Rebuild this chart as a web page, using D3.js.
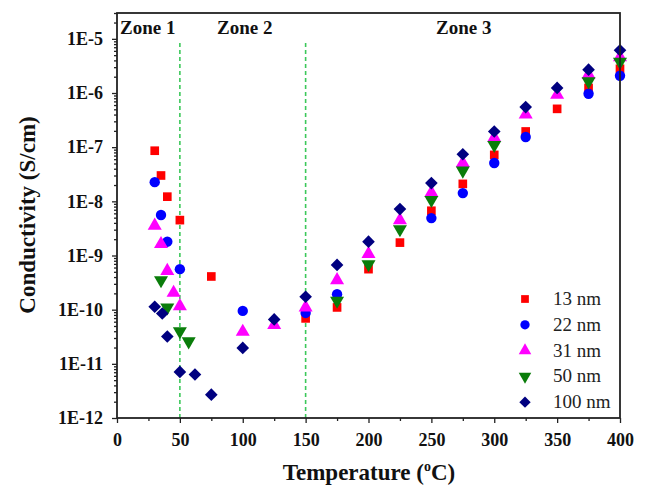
<!DOCTYPE html>
<html>
<head>
<meta charset="utf-8">
<script src="https://cdn.jsdelivr.net/npm/d3@7"></script>
<style>
  body { margin: 0; background: #fff; }
  svg { display: block; }
</style>
</head>
<body>
<svg id="chart"></svg>
<script>
const width = 648;
const height = 488;

// values (temperature in oC, conductivity in S/cm)
const names = ["13 nm", "22 nm", "31 nm", "50 nm", "100 nm"];
const t13 = [30, 35, 40, 50, 75, 150, 175, 200, 225, 250, 275, 300, 325, 350, 375, 400];
const c13 = [8.6e-8, 3.0e-8, 1.22e-8, 4.5e-9, 4.1e-10, 6.9e-11, 1.1e-10, 5.6e-10, 1.73e-9, 6.7e-9, 2.1e-8, 7.2e-8, 1.95e-7, 5.1e-7, 1.24e-6, 2.8e-6];
const t22 = [30, 35, 40, 50, 100, 150, 175, 250, 275, 300, 325, 375, 400];
const c22 = [2.26e-8, 5.6e-9, 1.8e-9, 5.6e-10, 9.5e-11, 8.7e-11, 1.93e-10, 4.9e-9, 1.42e-8, 5.1e-8, 1.54e-7, 9.7e-7, 2.08e-6];
const t31 = [30, 35, 40, 45, 50, 100, 125, 150, 175, 200, 225, 250, 275, 300, 325, 350, 375, 400];
const c31 = [3.56e-9, 1.63e-9, 5.2e-10, 2.05e-10, 1.16e-10, 3.9e-11, 5.2e-11, 1.1e-10, 3.5e-10, 1.07e-9, 4.5e-9, 1.45e-8, 5.1e-8, 1.5e-7, 4.0e-7, 9.3e-7, 2.18e-6, 4.6e-6];
const t50 = [35, 40, 50, 57, 175, 200, 225, 250, 275, 300, 375, 400];
const c50 = [3.5e-10, 1.1e-10, 4.0e-11, 2.6e-11, 1.46e-10, 6.9e-10, 3.05e-9, 1.06e-8, 3.7e-8, 1.1e-7, 1.64e-6, 3.75e-6];
const t100 = [30, 36, 40, 50, 62, 75, 100, 125, 150, 175, 200, 225, 250, 275, 300, 325, 350, 375, 400];
const c100 = [1.13e-10, 8.5e-11, 3.2e-11, 7.1e-12, 6.35e-12, 2.7e-12, 1.97e-11, 6.6e-11, 1.73e-10, 6.7e-10, 1.8e-9, 7.2e-9, 2.17e-8, 7.4e-8, 1.95e-7, 5.5e-7, 1.24e-6, 2.7e-6, 6.15e-6];

const xTicks = [0, 50, 100, 150, 200, 250, 300, 350, 400];
const yTicks = [1e-12, 1e-11, 1e-10, 1e-9, 1e-8, 1e-7, 1e-6, 1e-5];
const yTickLabels = ["1E-12", "1E-11", "1E-10", "1E-9", "1E-8", "1E-7", "1E-6", "1E-5"];
const zoneLines = [50, 150];
const zoneNames = ["Zone 1", "Zone 2", "Zone 3"];

const colors = ["#ff0000", "#0000ff", "#ff00ff", "#0a7d0a", "#000080"];
// square, circle, up triangle, down triangle, diamond (square turned 45deg)
const shapes = [d3.symbolSquare, d3.symbolCircle, d3.symbolTriangle, d3.symbolTriangle, d3.symbolSquare];
const turns = [0, 0, 0, 180, 45];
const sizes = [75, 85, 85, 85, 80];

const seriesData = [[t13, c13], [t22, c22], [t31, c31], [t50, c50], [t100, c100]];

const plotLeft = 117, plotRight = 620, plotTop = 13, plotBottom = 418;
const font = "'Liberation Serif', 'Times New Roman', serif";

const svg = d3.select("#chart").attr("width", width).attr("height", height);

const x = d3.scaleLinear().domain([0, 400]).range([plotLeft, plotRight]);
const y = d3.scaleLog().domain([1e-12, 3e-5]).range([plotBottom, plotTop]);

// zone separators
svg.append("g")
    .selectAll("line")
    .data(zoneLines)
    .enter()
    .append("line")
    .attr("x1", (d) => x(d))
    .attr("x2", (d) => x(d))
    .attr("y1", 43)
    .attr("y2", plotBottom)
    .style("stroke", "#3cc85a")
    .style("stroke-width", 1.6)
    .style("stroke-dasharray", "4,3");

// points
seriesData.forEach(([ts, cs], i) => {
    const pts = ts.map((t, k) => ({ t, c: cs[k] }));
    const sym = d3.symbol().type(shapes[i]).size(sizes[i]);
    svg.append("g")
        .selectAll("path")
        .data(pts)
        .enter()
        .append("path")
        .attr("d", sym)
        .attr("transform", (d) => "translate(" + x(d.t) + "," + y(d.c) + ") rotate(" + turns[i] + ")")
        .style("fill", colors[i]);
});

// minor ticks
const yMinor = [];
yTicks.slice(0, -1).forEach((d) => {
    for (let m = 2; m <= 9; m++) yMinor.push(d * m);
});
yMinor.push(2e-5, 3e-5);
const xMinor = d3.range(25, 400, 50);

const xAxisMinor = d3.axisBottom(x).tickValues(xMinor).tickSize(3).tickFormat("");
const yAxisMinor = d3.axisLeft(y).tickValues(yMinor).tickSize(3).tickFormat("");
svg.append("g").attr("transform", "translate(0," + plotBottom + ")").call(xAxisMinor);
svg.append("g").attr("transform", "translate(" + plotLeft + ",0)").call(yAxisMinor);

const xAxis = d3.axisBottom(x).tickValues(xTicks).tickSize(5).tickPadding(10);
const yAxis = d3.axisLeft(y).tickValues(yTicks).tickSize(5).tickPadding(9)
    .tickFormat((d, i) => yTickLabels[i]);

const gx = svg.append("g").attr("transform", "translate(0," + plotBottom + ")").call(xAxis);
const gy = svg.append("g").attr("transform", "translate(" + plotLeft + ",0)").call(yAxis);

svg.selectAll(".domain").remove();
svg.selectAll(".tick line").style("stroke", "#222").style("stroke-width", 1.3);
[gx, gy].forEach((g) => {
    g.selectAll("text")
        .style("font-family", font)
        .style("font-weight", "bold")
        .style("font-size", "18px")
        .style("fill", "#111");
});

// frame
svg.append("rect")
    .attr("x", plotLeft)
    .attr("y", plotTop)
    .attr("width", plotRight - plotLeft)
    .attr("height", plotBottom - plotTop)
    .style("fill", "none")
    .style("stroke", "#222")
    .style("stroke-width", 1.8);

// zone labels
const zoneX = [120, 217, 436];
svg.append("g")
    .selectAll("text")
    .data(zoneNames)
    .enter()
    .append("text")
    .attr("x", (d, i) => zoneX[i])
    .attr("y", 34)
    .text((d) => d)
    .style("font-family", font)
    .style("font-weight", "bold")
    .style("font-size", "19px")
    .style("fill", "#111");

// axis titles
const xt = svg.append("text")
    .attr("x", 369)
    .attr("y", 480)
    .attr("text-anchor", "middle")
    .style("font-family", font)
    .style("font-weight", "bold")
    .style("font-size", "23px")
    .style("fill", "#111");
xt.append("tspan").text("Temperature (");
xt.append("tspan").text("o").attr("dy", -9).style("font-size", "14px");
xt.append("tspan").text("C)").attr("dy", 9);

svg.append("text")
    .attr("transform", "translate(35,215) rotate(-90)")
    .attr("text-anchor", "middle")
    .text("Conductivity (S/cm)")
    .style("font-family", font)
    .style("font-weight", "bold")
    .style("font-size", "23px")
    .style("fill", "#111");

// legend
const legend = svg.append("g")
    .selectAll("g")
    .data(names)
    .enter()
    .append("g")
    .attr("transform", (d, i) => "translate(525," + (299 + i * 25.8) + ")");

legend.append("path")
    .attr("d", (d, i) => d3.symbol().type(shapes[i]).size(sizes[i] * 0.8)())
    .attr("transform", (d, i) => "rotate(" + turns[i] + ")")
    .style("fill", (d, i) => colors[i]);

legend.append("text")
    .attr("x", 28)
    .attr("y", 6)
    .text((d) => d)
    .style("font-family", font)
    .style("font-size", "19px")
    .style("fill", "#222");
</script>
</body>
</html>
